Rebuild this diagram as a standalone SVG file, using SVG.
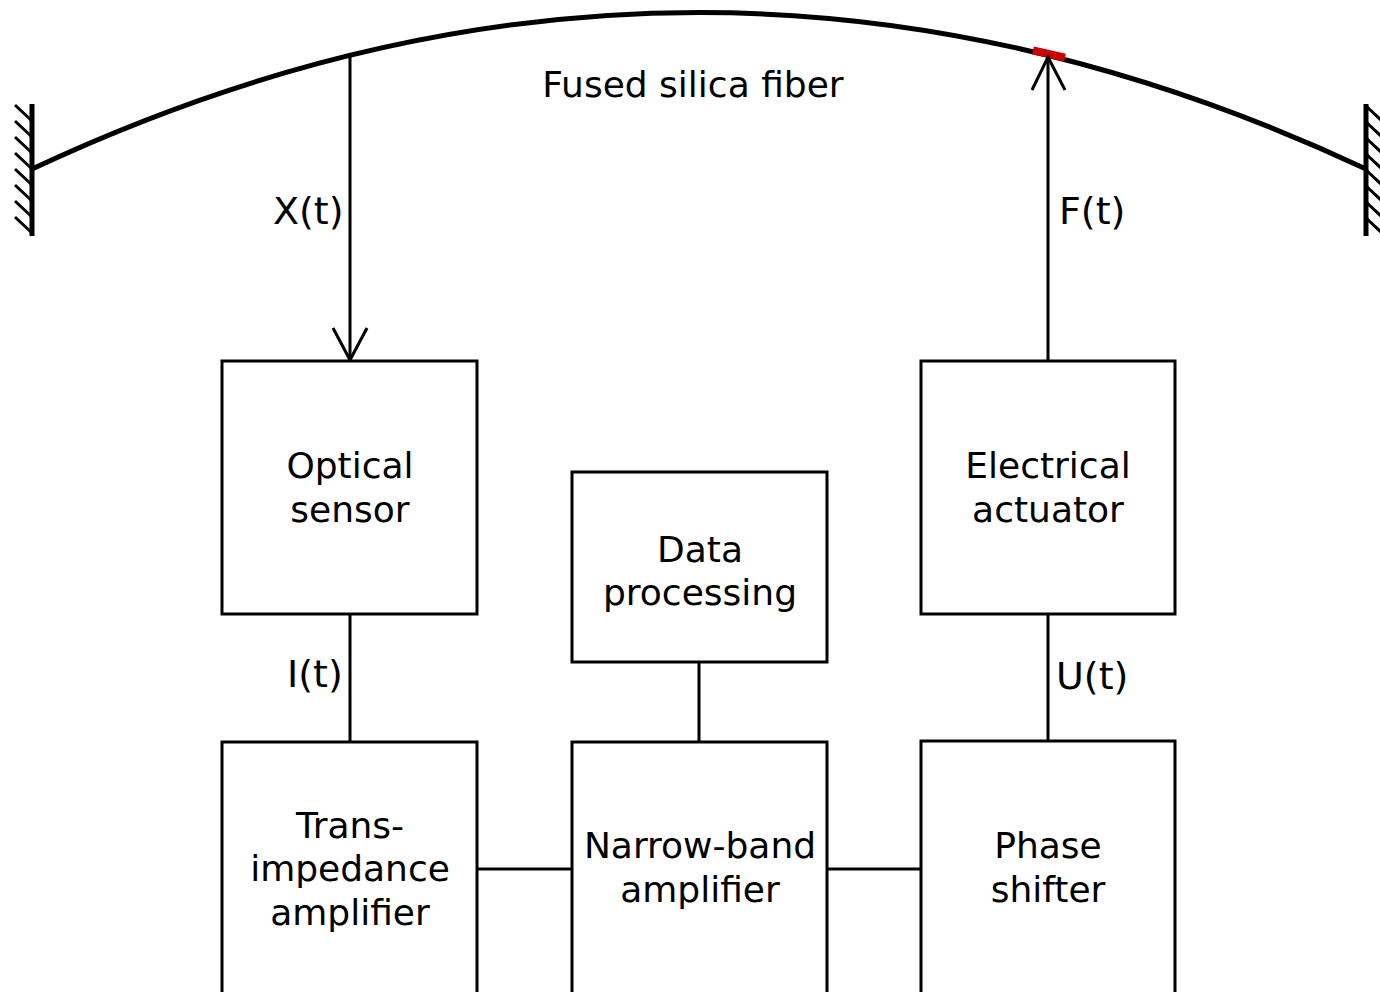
<svg xmlns="http://www.w3.org/2000/svg" width="1380" height="992" viewBox="0 0 1380 992">
<style>
.box{fill:#fff;stroke:#000;stroke-width:3}
.ln{fill:none;stroke:#000;stroke-width:3}
.t{font-family:"DejaVu Sans",sans-serif;font-size:36px;fill:#000;text-anchor:middle}
.lb{font-family:"DejaVu Sans",sans-serif;font-size:38px;fill:#000}
.w{stroke:#000;stroke-width:5;fill:none}
.h{stroke:#000;stroke-width:3;fill:none}
</style>
<rect width="1380" height="992" fill="#fff"/>
<g id="fiber">
<path d="M32,169 Q699,-144 1366,169" fill="none" stroke="#000" stroke-width="5"/>
<path d="M1033,50.3 L1065,57.6" stroke="#c00" stroke-width="8" fill="none"/>
<text class="t" x="693" y="97">Fused silica fiber</text>
</g>
<g id="wall-left">
<line class="w" x1="32" y1="104" x2="32" y2="236"/>
<path class="h" d="M15,105 l17,16 M15,121 l17,16 M15,137 l17,16 M15,153 l17,16 M15,169 l17,16 M15,185 l17,16 M15,201 l17,16 M15,217 l17,16"/>
</g>
<g id="wall-right">
<line class="w" x1="1366" y1="104" x2="1366" y2="236"/>
<path class="h" d="M1366,106 l17,16 M1366,122 l17,16 M1366,138 l17,16 M1366,154 l17,16 M1366,170 l17,16 M1366,186 l17,16 M1366,202 l17,16 M1366,218 l17,16"/>
</g>
<g id="connectors">
<line class="ln" x1="350" y1="55" x2="350" y2="360"/>
<path class="ln" d="M333,328 L350,360 L367,328"/>
<line class="ln" x1="1048" y1="361" x2="1048" y2="57"/>
<path class="ln" d="M1032,90 L1048,57 L1065,90"/>
<line class="ln" x1="350" y1="614" x2="350" y2="742"/>
<line class="ln" x1="1048" y1="614" x2="1048" y2="742"/>
<line class="ln" x1="699" y1="662" x2="699" y2="742"/>
<line class="ln" x1="477" y1="869" x2="572" y2="869"/>
<line class="ln" x1="827" y1="869" x2="921" y2="869"/>
<text class="lb" x="273" y="224">X(t)</text>
<text class="lb" x="1059" y="224">F(t)</text>
<text class="lb" x="287" y="687">I(t)</text>
<text class="lb" x="1056" y="689">U(t)</text>
</g>
<g id="optical-sensor">
<rect class="box" x="222" y="361" width="255" height="253"/>
<text class="t" x="350" y="478">Optical</text>
<text class="t" x="350" y="522">sensor</text>
</g>
<g id="data-processing">
<rect class="box" x="572" y="472" width="255" height="190"/>
<text class="t" x="700" y="562">Data</text>
<text class="t" x="700" y="605">processing</text>
</g>
<g id="electrical-actuator">
<rect class="box" x="921" y="361" width="254" height="253"/>
<text class="t" x="1048" y="478">Electrical</text>
<text class="t" x="1048" y="522">actuator</text>
</g>
<g id="trans-impedance-amplifier">
<rect class="box" x="222" y="742" width="255" height="252"/>
<text class="t" x="350" y="838">Trans-</text>
<text class="t" x="350" y="881">impedance</text>
<text class="t" x="350" y="925">amplifier</text>
</g>
<g id="narrow-band-amplifier">
<rect class="box" x="572" y="742" width="255" height="252"/>
<text class="t" x="700" y="858">Narrow-band</text>
<text class="t" x="700" y="902">amplifier</text>
</g>
<g id="phase-shifter">
<rect class="box" x="921" y="741" width="254" height="253"/>
<text class="t" x="1048" y="858">Phase</text>
<text class="t" x="1048" y="902">shifter</text>
</g>
</svg>
